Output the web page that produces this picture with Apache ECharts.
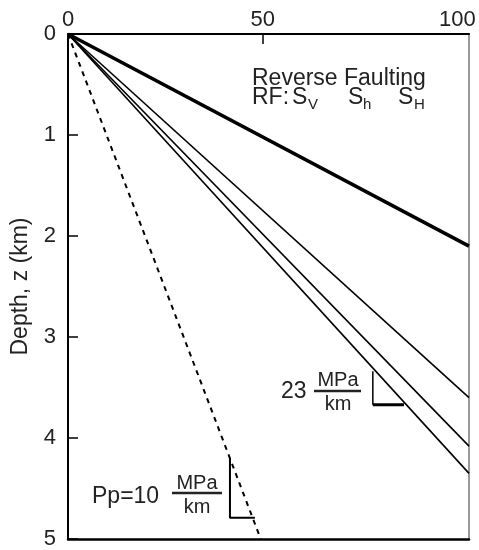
<!DOCTYPE html>
<html>
<head>
<meta charset="utf-8">
<script src="https://cdn.jsdelivr.net/npm/echarts@6/dist/echarts.min.js"></script>
<style>html,body{margin:0;padding:0;background:#fff;}#c{width:479px;height:550px;}</style>
</head>
<body>
<div id="c"></div>
<script>
// ---- data ----
const stressMin = 0;
const stressMax = 103;           // right frame edge (MPa)
const stressTicks = [0, 50, 100];
const depthMin = 0;
const depthMax = 5;
const lineNames = ['SH', 'Sh', 'Sv', 'S3'];
const lineEndStress = [103, 103, 103, 103];
const lineEndDepth = [2.1, 3.6, 4.08, 4.35];
const ppEnd = [49.5, 5];
const triangle23 = [[78.3, 3.34], [78.3, 3.67], [86.3, 3.67]];
const trianglePp = [[41.6, 4.2], [41.6, 4.79], [48.0, 4.79]];

const FONT = '"Liberation Sans", Arial, sans-serif';
const chart = echarts.init(document.getElementById('c'), null, {renderer: 'canvas'});

const series = [];
lineNames.forEach((n, i) => {
  series.push({
    name: n, type: 'line', symbol: 'none', silent: true,
    data: [[0, 0], [lineEndStress[i], lineEndDepth[i]]],
    lineStyle: {color: '#000', width: i === 0 ? 3.5 : 1.6}
  });
});
series.push({
  name: 'Pp', type: 'line', symbol: 'none', silent: true,
  data: [[0, 0], ppEnd],
  lineStyle: {color: '#000', width: 2, type: [5, 5]}
});
series.push({
  name: 'tri23', type: 'line', symbol: 'none', silent: true,
  data: triangle23.slice(0, 2), lineStyle: {color: '#000', width: 1.5}
});
series.push({
  name: 'tri23b', type: 'line', symbol: 'none', silent: true,
  data: triangle23.slice(1), lineStyle: {color: '#000', width: 3}
});
series.push({
  name: 'triPp', type: 'line', symbol: 'none', silent: true,
  data: trianglePp, lineStyle: {color: '#000', width: 2}
});

const txt = (x, y, s, size, align) => ({
  type: 'text', x: x, y: y, silent: true,
  style: {text: s, font: (size || 22) + 'px ' + FONT, fill: '#222', verticalAlign: 'middle', align: align || 'left'}
});
const ln = (x1, y1, x2, y2, w) => ({
  type: 'line', silent: true, shape: {x1, y1, x2, y2}, style: {stroke: '#222', lineWidth: w || 2}
});

chart.setOption({
  animation: false,
  backgroundColor: '#fff',
  grid: {left: 68, right: 10, top: 34, bottom: 7},
  xAxis: [{
    type: 'value', position: 'top', min: stressMin, max: stressMax, interval: 50,
    axisLine: {show: true, onZero: false, lineStyle: {color: '#000', width: 2}},
    axisTick: {show: true, inside: true, length: 10, customValues: [50], lineStyle: {color: '#000', width: 1.5}},
    axisLabel: {customValues: stressTicks, fontFamily: FONT, fontSize: 22, color: '#222', margin: 3},
    splitLine: {show: false}
  }, {
    type: 'value', position: 'bottom', min: stressMin, max: stressMax,
    axisLine: {show: true, onZero: false, lineStyle: {color: '#000', width: 2.5}},
    axisTick: {show: false}, axisLabel: {show: false}, splitLine: {show: false}
  }],
  yAxis: [{
    type: 'value', position: 'left', inverse: true, min: depthMin, max: depthMax, interval: 1,
    name: 'Depth, z (km)', nameLocation: 'middle', nameGap: 36, nameRotate: 90,
    nameTextStyle: {fontFamily: FONT, fontSize: 23, color: '#222'},
    axisLine: {show: true, onZero: false, lineStyle: {color: '#000', width: 2}},
    axisTick: {show: true, inside: true, length: 10, lineStyle: {color: '#000', width: 1.5}},
    axisLabel: {fontFamily: FONT, fontSize: 22, color: '#222', margin: 12},
    splitLine: {show: false}
  }, {
    type: 'value', position: 'right', inverse: true, min: depthMin, max: depthMax,
    axisLine: {show: true, onZero: false, lineStyle: {color: '#999', width: 2}},
    axisTick: {show: false}, axisLabel: {show: false}, splitLine: {show: false}
  }],
  series: series,
  graphic: [
    txt(252, 79, 'Reverse Faulting', 23),
    txt(252, 98, 'RF:', 23),
    txt(292, 98, 'S', 23), txt(308, 105, 'V', 15),
    txt(348, 98, 'S', 23), txt(363, 105, 'h', 15),
    txt(398, 98, 'S', 23), txt(414, 105, 'H', 15),
    txt(281, 392, '23', 23),
    txt(338, 380, 'MPa', 20, 'center'),
    ln(314, 391, 361, 391, 2.5),
    txt(338, 404, 'km', 20, 'center'),
    txt(92, 497, 'Pp=10', 23),
    txt(197, 483, 'MPa', 20, 'center'),
    ln(172, 493, 222, 493, 2.5),
    txt(197, 507, 'km', 20, 'center')
  ]
});
</script>
</body>
</html>
